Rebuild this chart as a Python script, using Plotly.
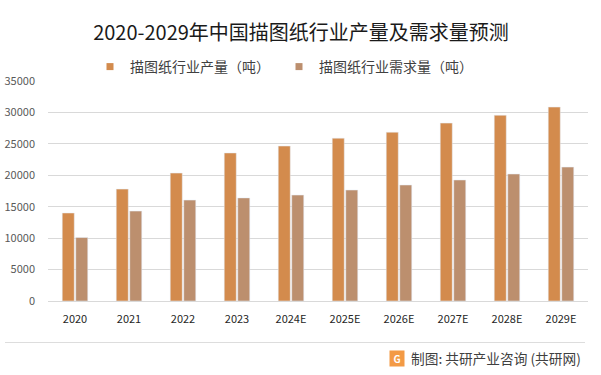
import plotly.graph_objects as go

years = ["2020", "2021", "2022", "2023", "2024E", "2025E", "2026E", "2027E", "2028E", "2029E"]
production = [14000, 17800, 20350, 23550, 24650, 25900, 26850, 28300, 29550, 30850]
demand = [10100, 14300, 16050, 16400, 16850, 17650, 18450, 19250, 20200, 21300]
series_names = ["描图纸行业产量（吨）", "描图纸行业需求量（吨）"]
y_ticks = [0, 5000, 10000, 15000, 20000, 25000, 30000, 35000]
colors = ["#D38B4D", "#BC8F6E"]

FONT = "Noto Sans CJK SC"
PLOT_L, PLOT_R, PLOT_T, PLOT_B = 48, 588, 81, 301
PW, PH = PLOT_R - PLOT_L, PLOT_B - PLOT_T

def px_x(x):
    return (x - PLOT_L) / PW

def px_y(y):
    return (PLOT_B - y) / PH

fig = go.Figure()
for name, vals, col in zip(series_names, [production, demand], colors):
    fig.add_trace(go.Bar(x=years, y=vals, name=name, marker_color=col, showlegend=False))
# legend entries with small square symbols
for name, col in zip(series_names, colors):
    fig.add_trace(go.Scatter(x=[None], y=[None], mode="markers", name=name,
                             marker=dict(symbol="square", size=7, color=col)))

fig.update_layout(
    width=601, height=375,
    margin=dict(l=PLOT_L, r=601 - PLOT_R, t=PLOT_T, b=375 - PLOT_B, autoexpand=False),
    paper_bgcolor="white", plot_bgcolor="white",
    barmode="group", bargap=0.5, bargroupgap=0.11,
    font=dict(family=FONT, color="#595959", size=11),
    title=dict(text="2020-2029年中国描图纸行业产量及需求量预测", x=301 / 601, xref="container", xanchor="center",
               y=1 - 33 / 375, yref="container", yanchor="middle",
               font=dict(size=20, color="#1a1a1a", family=FONT)),
    legend=dict(orientation="h", x=px_x(90), xanchor="left", y=px_y(67), yanchor="middle",
                font=dict(size=14, color="#404040", family=FONT), itemwidth=30,
                entrywidth=144, entrywidthmode="pixels",
                traceorder="normal", bgcolor="rgba(0,0,0,0)"),
    showlegend=True,
)
fig.update_yaxes(range=[0, 35000], tickvals=y_ticks, ticktext=[str(v) for v in y_ticks],
                 showgrid=True, gridcolor="#D9D9D9", gridwidth=1, automargin=False,
                 zeroline=False, showline=False, ticks="", tickfont=dict(size=11, color="#595959"),
                 ticklabelstandoff=12)
fig.update_xaxes(showline=True, linecolor="#D9D9D9", linewidth=1, ticks="", automargin=False,
                 tickfont=dict(size=11, color="#262626"), ticklabelstandoff=8)

# footer separator and source text
fig.add_shape(type="line", xref="paper", yref="paper", x0=px_x(5), x1=px_x(585),
              y0=px_y(342.5), y1=px_y(342.5), line=dict(color="#DDDDDD", width=1))
fig.add_annotation(text="制图: 共研产业咨询 (共研网)", xref="paper", yref="paper", x=px_x(583), y=px_y(358),
                   xanchor="right", yanchor="middle", showarrow=False,
                   font=dict(size=13.7, color="#404040", family=FONT))
fig.add_annotation(text="<b>G</b>", xref="paper", yref="paper", x=px_x(397), y=px_y(358),
                   xanchor="center", yanchor="middle", showarrow=False, bgcolor="#F39A45",
                   font=dict(size=10, color="white", family=FONT), width=12, height=13)

fig.write_html("out.html", config={"displayModeBar": False},
               post_script="document.body.style.margin='0';")
